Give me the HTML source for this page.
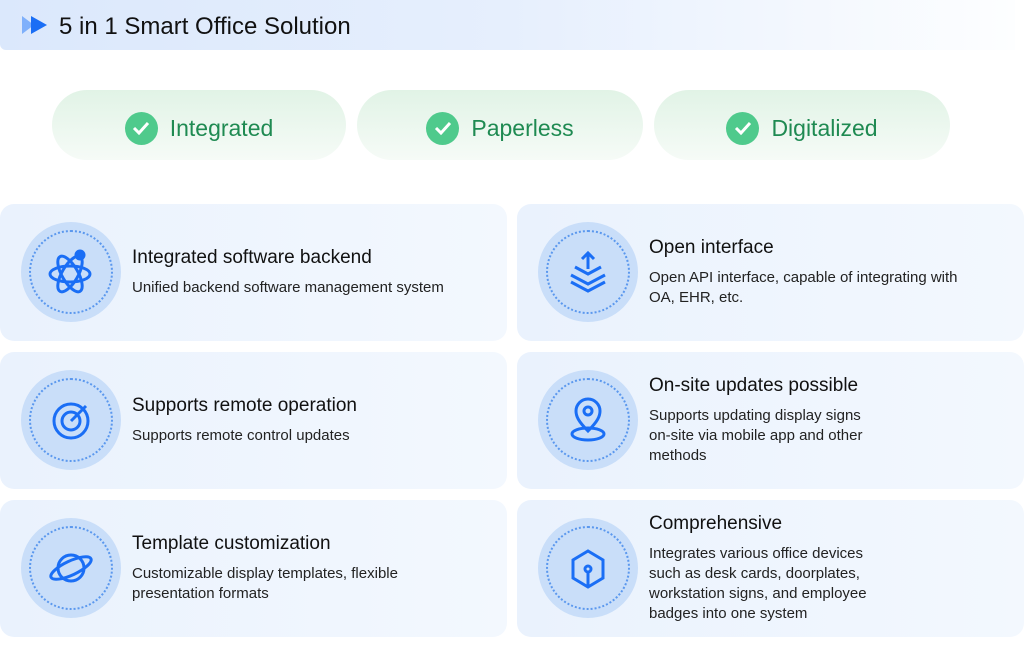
<!DOCTYPE html><html><head><meta charset="utf-8"><style>
*{margin:0;padding:0;box-sizing:border-box}
body{width:1024px;height:668px;background:#fff;font-family:"Liberation Sans",sans-serif;position:relative;overflow:hidden}
.hdr{position:absolute;left:0;top:0;width:1015px;height:50px;border-radius:0 0 0 6px;background:linear-gradient(90deg,#dbe8fc 0%,#e6effd 50%,#fdfeff 100%)}
.hdr span{position:absolute;left:59px;top:13px;font-size:24px;color:#111}
.pill{position:absolute;top:90px;height:70px;border-radius:35px;background:linear-gradient(180deg,#e1f3e6 0%,#f6fbf7 100%);display:flex;align-items:center;justify-content:center;gap:12px;color:#1f8a52;font-size:23px;padding-top:6px}
.chk{width:33px;height:33px;border-radius:50%;background:#4fca8c;display:flex;align-items:center;justify-content:center}
.card{position:absolute;width:507px;height:137px;border-radius:14px;background:linear-gradient(90deg,#eaf2fd 0%,#f3f8fe 100%)}
.circ{position:absolute;left:21px;top:18px;width:100px;height:100px;border-radius:50%;background:#c9def9}
.circ .d{position:absolute;left:8px;top:8px;width:84px;height:84px;border-radius:50%;border:2px dotted #5b98ee}
.circ svg{position:absolute;left:25px;top:25px}
.txt{position:absolute;left:132px;top:0;height:137px;display:flex;flex-direction:column;justify-content:center;width:370px}
.t{font-size:19px;color:#111;margin-bottom:9px}
.s{font-size:15px;line-height:20px;color:#222}
</style></head><body>
<div class="hdr"><svg style="position:absolute;left:22px;top:16px" width="26" height="18"><polygon points="0,0 12,9 0,18" fill="#7fb0fb"/><polygon points="9,0 25,9 9,18" fill="#1a6ef5"/></svg><span>5 in 1 Smart Office Solution</span></div>
<div class="pill" style="left:52px;width:294px"><div class="chk"><svg width="18" height="14"><polyline points="2,7 7,12 16,2" fill="none" stroke="#fff" stroke-width="3"/></svg></div>Integrated</div>
<div class="pill" style="left:357px;width:286px"><div class="chk"><svg width="18" height="14"><polyline points="2,7 7,12 16,2" fill="none" stroke="#fff" stroke-width="3"/></svg></div>Paperless</div>
<div class="pill" style="left:654px;width:296px"><div class="chk"><svg width="18" height="14"><polyline points="2,7 7,12 16,2" fill="none" stroke="#fff" stroke-width="3"/></svg></div>Digitalized</div>

<div class="card" style="left:0;top:204px"><div class="circ"><div class="d"></div><svg width="50" height="50" fill="none" stroke="#1a6ef5" stroke-width="3"><ellipse cx="24" cy="27" rx="20" ry="8"/><ellipse cx="24" cy="27" rx="20" ry="8" transform="rotate(60 24 27)"/><ellipse cx="24" cy="27" rx="20" ry="8" transform="rotate(-60 24 27)"/><circle cx="34" cy="8" r="4" fill="#1a6ef5"/></svg></div><div class="txt"><div class="t">Integrated software backend</div><div class="s">Unified backend software management system</div></div></div>
<div class="card" style="left:517px;top:204px"><div class="circ"><div class="d"></div><svg width="50" height="50" fill="none" stroke="#1a6ef5" stroke-width="3"><polyline points="12,20 25,27 38,20"/><polyline points="8,28 25,37 42,28"/><polyline points="8,35 25,44 42,35"/><line x1="25" y1="6" x2="25" y2="22"/><polyline points="19,12 25,6 31,12"/></svg></div><div class="txt"><div class="t">Open interface</div><div class="s">Open API interface, capable of integrating with<br>OA, EHR, etc.</div></div></div>
<div class="card" style="left:0;top:352px"><div class="circ"><div class="d"></div><svg width="50" height="50" fill="none" stroke="#1a6ef5" stroke-width="3"><circle cx="25" cy="26" r="17"/><circle cx="25" cy="26" r="9"/><line x1="25" y1="26" x2="40" y2="11"/></svg></div><div class="txt"><div class="t">Supports remote operation</div><div class="s">Supports remote control updates</div></div></div>
<div class="card" style="left:517px;top:352px"><div class="circ"><div class="d"></div><svg width="50" height="50" fill="none" stroke="#1a6ef5" stroke-width="3"><path d="M25 36 C15 26 13 21 13 16 A12 12 0 0 1 37 16 C37 21 35 26 25 36Z"/><circle cx="25" cy="16" r="4"/><ellipse cx="25" cy="39" rx="16" ry="6"/></svg></div><div class="txt"><div class="t">On-site updates possible</div><div class="s">Supports updating display signs<br>on-site via mobile app and other<br>methods</div></div></div>
<div class="card" style="left:0;top:500px"><div class="circ"><div class="d"></div><svg width="50" height="50" fill="none" stroke="#1a6ef5" stroke-width="3"><circle cx="25" cy="25" r="13"/><ellipse cx="25" cy="25" rx="22" ry="7" transform="rotate(-25 25 25)"/></svg></div><div class="txt"><div class="t">Template customization</div><div class="s">Customizable display templates, flexible<br>presentation formats</div></div></div>
<div class="card" style="left:517px;top:500px"><div class="circ"><div class="d"></div><svg width="50" height="50" fill="none" stroke="#1a6ef5" stroke-width="3"><polygon points="25,8 40,17 40,35 25,44 10,35 10,17"/><line x1="25" y1="30" x2="25" y2="44"/><circle cx="25" cy="26" r="3"/></svg></div><div class="txt"><div class="t">Comprehensive</div><div class="s">Integrates various office devices<br>such as desk cards, doorplates,<br>workstation signs, and employee<br>badges into one system</div></div></div>
</body></html>
